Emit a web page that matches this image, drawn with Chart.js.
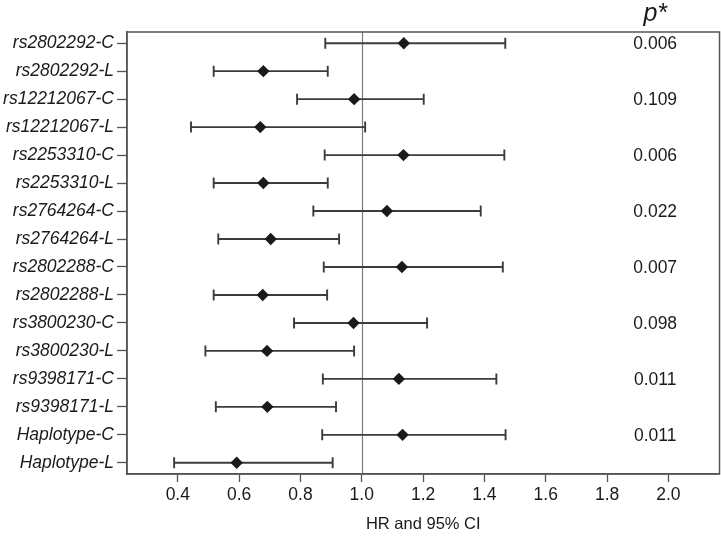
<!DOCTYPE html>
<html>
<head>
<meta charset="utf-8">
<script src="https://cdn.jsdelivr.net/npm/chart.js@4/dist/chart.umd.min.js"></script>
<style>
html,body{margin:0;padding:0;background:#fff;}
canvas{display:block;}
</style>
</head>
<body>
<canvas id="c" width="721" height="538"></canvas>
<script>
const categories = ["rs2802292-C","rs2802292-L","rs12212067-C","rs12212067-L","rs2253310-C","rs2253310-L","rs2764264-C","rs2764264-L","rs2802288-C","rs2802288-L","rs3800230-C","rs3800230-L","rs9398171-C","rs9398171-L","Haplotype-C","Haplotype-L"];
const hr    = [1.137,0.679,0.975,0.669,1.136,0.679,1.082,0.703,1.131,0.677,0.973,0.691,1.121,0.692,1.133,0.592];
const lower = [0.881,0.517,0.789,0.443,0.879,0.517,0.842,0.532,0.876,0.517,0.779,0.490,0.873,0.524,0.871,0.388];
const upper = [1.468,0.889,1.202,1.011,1.465,0.889,1.388,0.926,1.460,0.887,1.213,0.975,1.439,0.916,1.469,0.905];
const pValues = ["0.006","","0.109","","0.006","","0.022","","0.007","","0.098","","0.011","","0.011",""];
const xTicks = [0.4,0.6,0.8,1.0,1.2,1.4,1.6,1.8,2.0];
const xTickLabels = ["0.4","0.6","0.8","1.0","1.2","1.4","1.6","1.8","2.0"];
const refValue = 1.0;
const pColumnX = 1.957;

const FONT = "'Liberation Sans', Arial, sans-serif";

const forestPlugin = {
  id: 'forest',
  beforeDatasetsDraw(chart) {
    const {ctx, chartArea: a, scales: {x, y}} = chart;
    ctx.save();
    const rx = Math.round(x.getPixelForValue(refValue)) + 0.5;
    ctx.strokeStyle = '#7a7a7a';
    ctx.lineWidth = 1.2;
    ctx.beginPath(); ctx.moveTo(rx, a.top); ctx.lineTo(rx, a.bottom); ctx.stroke();
    ctx.strokeStyle = '#3c3c3c';
    ctx.lineWidth = 1.9;
    for (let i = 0; i < categories.length; i++) {
      const py = y.getPixelForValue(i);
      const x1 = x.getPixelForValue(lower[i]);
      const x2 = x.getPixelForValue(upper[i]);
      ctx.beginPath();
      ctx.moveTo(x1, py); ctx.lineTo(x2, py);
      ctx.moveTo(x1, py - 5.5); ctx.lineTo(x1, py + 5.5);
      ctx.moveTo(x2, py - 5.5); ctx.lineTo(x2, py + 5.5);
      ctx.stroke();
    }
    ctx.restore();
  },
  afterDraw(chart) {
    const {ctx, chartArea: a, scales: {x, y}} = chart;
    ctx.save();
    ctx.strokeStyle = '#555';
    ctx.lineWidth = 1.5;
    ctx.strokeRect(a.left, a.top, a.right - a.left, a.bottom - a.top);
    ctx.fillStyle = '#1a1a1a';
    ctx.font = "17.5px " + FONT;
    ctx.textAlign = 'center';
    ctx.textBaseline = 'middle';
    const px = x.getPixelForValue(pColumnX);
    for (let i = 0; i < pValues.length; i++) {
      if (pValues[i]) ctx.fillText(pValues[i], px, y.getPixelForValue(i) + 1);
    }
    ctx.font = "italic 25px " + FONT;
    ctx.fillText("p*", px, 14);
    ctx.restore();
  }
};

new Chart(document.getElementById('c'), {
  type: 'scatter',
  data: {
    datasets: [{
      data: hr.map((v, i) => ({x: v, y: i})),
      pointStyle: 'rectRot',
      pointRadius: 6.2,
      pointHoverRadius: 6.2,
      backgroundColor: '#1a1a1a',
      borderColor: '#1a1a1a',
      borderWidth: 0
    }]
  },
  options: {
    responsive: false,
    animation: false,
    events: [],
    layout: {autoPadding: false, padding: {top: 32, right: 1.5, left: 0, bottom: 0}},
    plugins: {legend: {display: false}, tooltip: {enabled: false}},
    scales: {
      x: {
        type: 'linear',
        min: 0.2343,
        max: 2.1667,
        afterBuildTicks(s) { s.ticks = xTicks.map(v => ({value: v})); },
        afterFit(s) { s.height = 64; s.paddingLeft = 0; s.paddingRight = 0; },
        ticks: {
          autoSkip: false,
          maxRotation: 0,
          padding: 3,
          color: '#1a1a1a',
          font: {family: FONT, size: 17.5},
          callback: (v, i) => xTickLabels[i]
        },
        grid: {drawOnChartArea: false, tickLength: 8, color: '#555', tickWidth: 1.3},
        border: {display: true, color: '#555', width: 1.5},
        title: {display: true, text: 'HR and 95% CI', color: '#1a1a1a', font: {family: FONT, size: 16.5}, padding: {top: 0, bottom: 4}}
      },
      y: {
        type: 'linear',
        reverse: true,
        min: -0.4,
        max: 15.4,
        afterBuildTicks(s) { s.ticks = categories.map((c, i) => ({value: i})); },
        afterFit(s) { s.width = 127; s.paddingTop = 0; s.paddingBottom = 0; },
        ticks: {
          autoSkip: false,
          padding: 3,
          color: '#1a1a1a',
          font: {family: FONT, size: 17.5, style: 'italic'},
          callback: (v) => categories[v]
        },
        grid: {drawOnChartArea: false, tickLength: 10, color: '#555', tickWidth: 1.3},
        border: {display: true, color: '#555', width: 1.5}
      }
    }
  },
  plugins: [forestPlugin]
});
</script>
</body>
</html>
